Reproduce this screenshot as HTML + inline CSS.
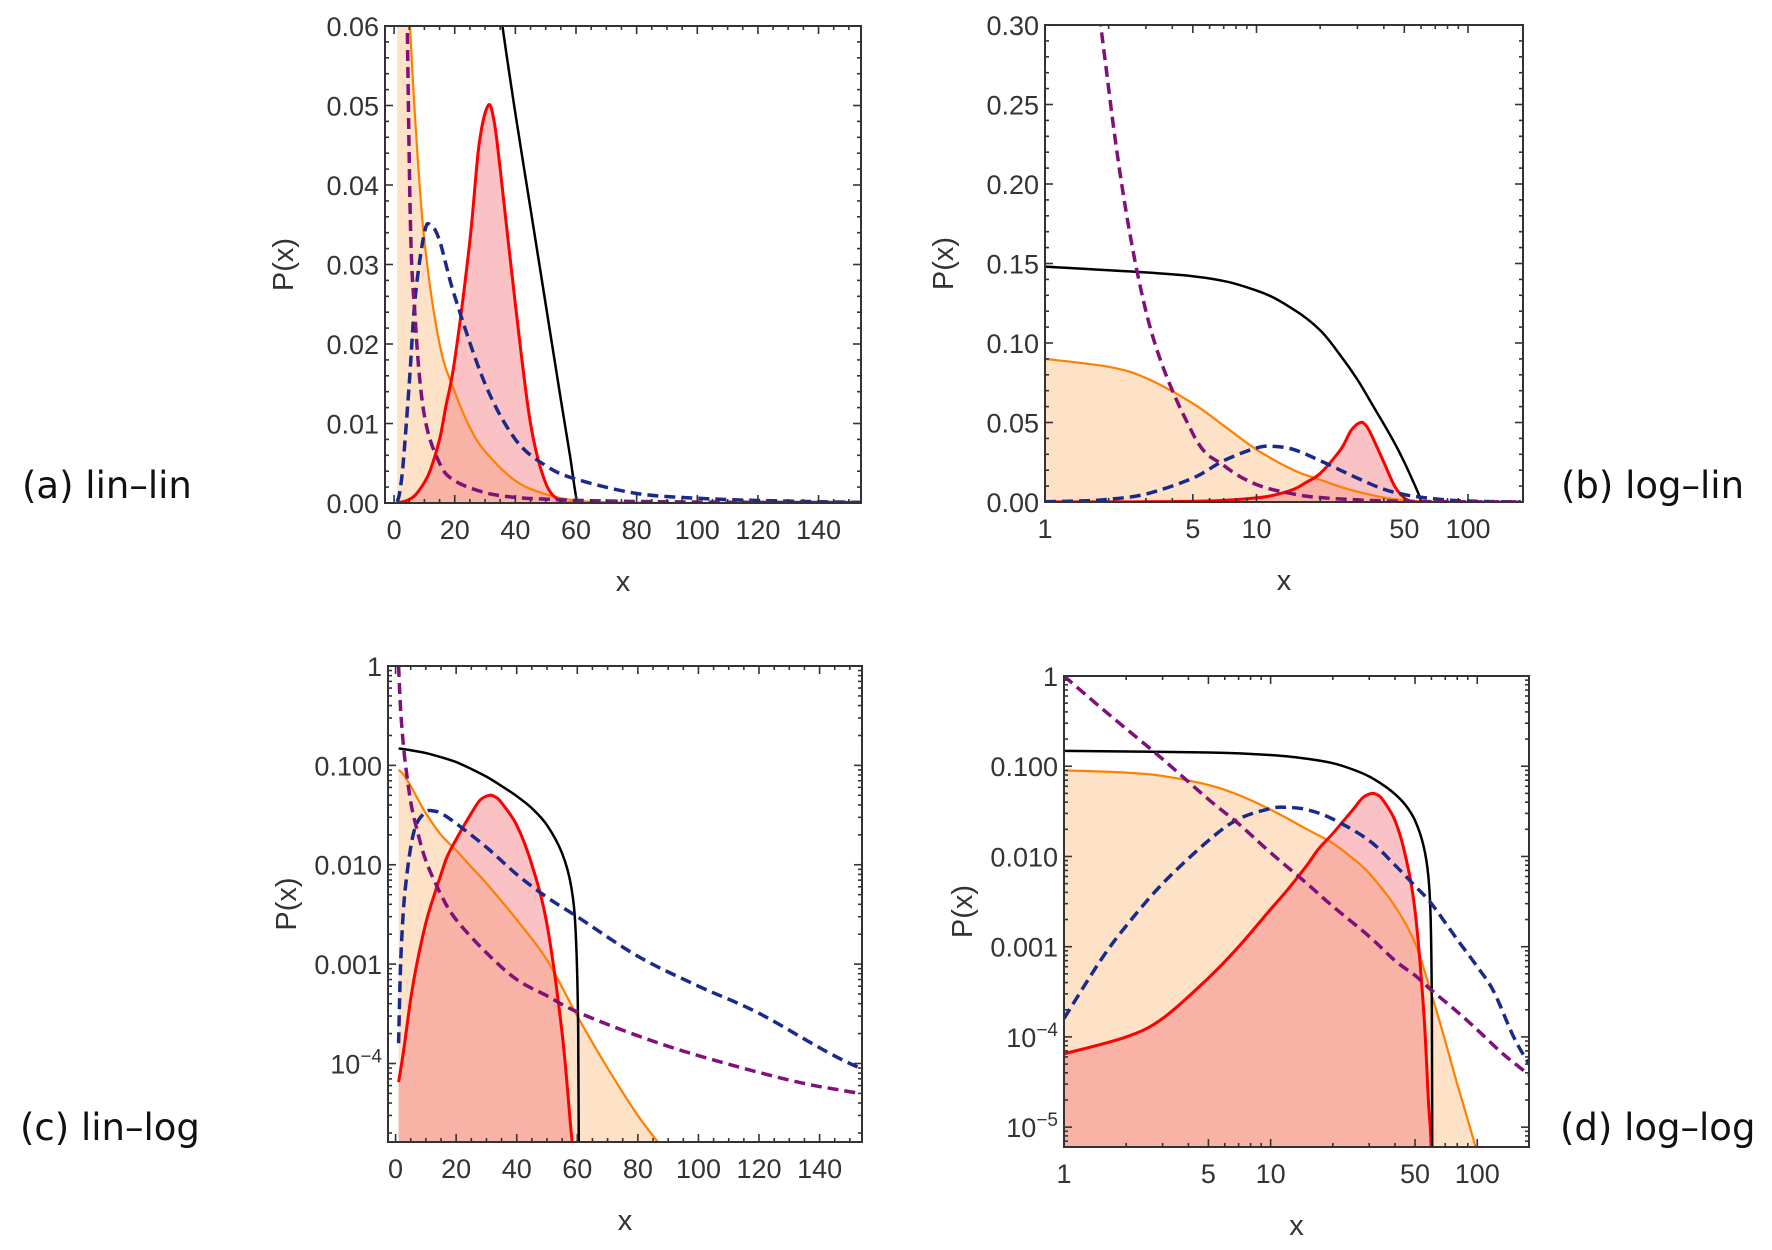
<!DOCTYPE html>
<html><head><meta charset="utf-8"><style>
html,body{margin:0;padding:0;background:#fff;width:1772px;height:1250px;overflow:hidden;position:relative;}
svg{display:block;font-family:"Liberation Sans",sans-serif;}
.tl{font-size:27px;fill:#333;}
.al{font-size:29px;fill:#333;}
.pl{position:absolute;font:37px 'DejaVu Sans','Liberation Sans',sans-serif;color:#111;white-space:nowrap;}
</style></head><body>
<svg id="fig" width="1772" height="1250" viewBox="0 0 1772 1250" xmlns="http://www.w3.org/2000/svg"></svg>
<script>
// ---- data (shared by all four panels) ----
const blackX  = [1,5,10,15,20,25,30,35,40,45,50,55,58,59.5,60.3,60.6];
const blackY  = [0.148,0.142,0.133,0.121,0.108,0.092,0.077,0.062,0.049,0.037,0.025,0.013,0.006,0.002,0.0002,0.000001];
const orangeX = [1,2,3,5,7,10,15,20,25,30,40,50,60,70,80,90,100,115];
const orangeY = [0.09,0.085,0.078,0.062,0.048,0.033,0.02,0.014,0.0095,0.0065,0.0028,0.0011,0.0003,0.00009,0.00003,0.000012,0.000005,0.000001];
const redX    = [1,2,3,5,7,10,12,15,17,20,25,28,31,33,35,40,45,50,55,58,60,62];
const redY    = [0.000065,0.0001,0.00016,0.00045,0.001,0.0026,0.0042,0.008,0.012,0.018,0.033,0.045,0.05,0.048,0.042,0.025,0.01,0.0025,0.0002,0.00002,0.000005,0.0000001];
const blueX   = [1,1.5,2,3,5,7,10,12,15,20,30,40,50,60,80,100,120,150,178];
const blueY   = [0.00016,0.0007,0.0017,0.005,0.015,0.026,0.034,0.035,0.033,0.026,0.015,0.008,0.0047,0.003,0.0012,0.0006,0.00032,0.0001,0.00005];
const purpleX = [1,1.5,2,3,5,7,10,15,20,30,40,50,60,80,100,130,150,178];
const purpleY = [1,0.45,0.26,0.12,0.043,0.023,0.011,0.005,0.0028,0.0013,0.0007,0.00048,0.00033,0.00019,0.00012,0.000068,0.000052,0.000038];
// tick labels
const linXTicks = [0,20,40,60,80,100,120,140];
const logXTicks = [1,5,10,50,100];
const aYTicks = [0,0.01,0.02,0.03,0.04,0.05,0.06];
const aYLabels = ["0.00","0.01","0.02","0.03","0.04","0.05","0.06"];
const bYTicks = [0,0.05,0.1,0.15,0.2,0.25,0.3];
const bYLabels = ["0.00","0.05","0.10","0.15","0.20","0.25","0.30"];
const cYTicks = [1,0.1,0.01,0.001,0.0001];
const dYTicks = [1,0.1,0.01,0.001,0.0001,0.00001];
const logYLabels = ["1","0.100","0.010","0.001","10^-4","10^-5"];

const NS="http://www.w3.org/2000/svg";
const svg=document.getElementById('fig');
function mk(tag,parent){const e=document.createElementNS(NS,tag);(parent||svg).appendChild(e);return e;}

const panels=[
 {id:'a',L:385,R:861,T:26,B:503,xlog:false,ylog:false,x0:-3,x1:154,y0:0,y1:0.06},
 {id:'b',L:1045,R:1523,T:25,B:502,xlog:true,ylog:false,x0:1,x1:182,y0:0,y1:0.30},
 {id:'c',L:388,R:862,T:666,B:1142,xlog:false,ylog:true,x0:-2.5,x1:154,y0:Math.pow(10,-4.79),y1:1},
 {id:'d',L:1064,R:1529,T:676,B:1147,xlog:true,ylog:true,x0:1,x1:178,y0:Math.pow(10,-5.22),y1:1}
];
function sx(p,v){ if(p.xlog){return p.L+(Math.log10(v)-Math.log10(p.x0))/(Math.log10(p.x1)-Math.log10(p.x0))*(p.R-p.L);} return p.L+(v-p.x0)/(p.x1-p.x0)*(p.R-p.L);}
function sy(p,v){ if(p.ylog){v=Math.max(v,1e-12);return p.B-(Math.log10(v)-Math.log10(p.y0))/(Math.log10(p.y1)-Math.log10(p.y0))*(p.B-p.T);} return p.B-(v-p.y0)/(p.y1-p.y0)*(p.B-p.T);}
function pathD(pts){
  let d='M'+pts[0][0].toFixed(2)+','+pts[0][1].toFixed(2);
  for(let i=0;i<pts.length-1;i++){
    const p0=pts[Math.max(0,i-1)],p1=pts[i],p2=pts[i+1],p3=pts[Math.min(pts.length-1,i+2)];
    const c1=[p1[0]+(p2[0]-p0[0])/6,p1[1]+(p2[1]-p0[1])/6];
    const c2=[p2[0]-(p3[0]-p1[0])/6,p2[1]-(p3[1]-p1[1])/6];
    d+=' C'+c1[0].toFixed(2)+','+c1[1].toFixed(2)+' '+c2[0].toFixed(2)+','+c2[1].toFixed(2)+' '+p2[0].toFixed(2)+','+p2[1].toFixed(2);
  }
  return d;
}
function pts(p,xs,ys){return xs.map((x,i)=>[sx(p,x),sy(p,ys[i])]);}

panels.forEach(p=>{
  const g=mk('g');
  
  
  const cp=mk('clipPath',g); cp.setAttribute('id','clip'+p.id);
  const cr=mk('rect',cp); cr.setAttribute('x',p.L);cr.setAttribute('y',p.T);cr.setAttribute('width',p.R-p.L);cr.setAttribute('height',p.B-p.T);
  const pg=mk('g',g); pg.setAttribute('clip-path','url(#clip'+p.id+')');
  
  
  const bottom=p.B+5;
  function fill(xs,ys,col,name){
    const P=pts(p,xs,ys);
    const e=mk('path',pg);
    e.setAttribute('d',pathD(P)+' L'+P[P.length-1][0]+','+bottom+' L'+P[0][0]+','+bottom+' Z');
    e.setAttribute('fill',col);
    
    
  }
  fill(orangeX,orangeY,'rgb(253,226,200)','orange-area');
  fill(redX,redY,'rgba(245,120,125,0.45)','red-area');
  function line(xs,ys,col,w,dash,name){
    const e=mk('path',pg);
    e.setAttribute('d',pathD(pts(p,xs,ys)));
    e.setAttribute('fill','none');e.setAttribute('stroke',col);e.setAttribute('stroke-width',w);
    if(dash)e.setAttribute('stroke-dasharray',dash);
    e.setAttribute('stroke-linejoin','round');
    
    
  }
  line(orangeX,orangeY,'#ff7f00',2.2,null,'orange-line');
  line(redX,redY,'#ff0000',3,null,'red-line');
  line(blackX,blackY,'#000',2.5,null,'black-line');
  line(blueX,blueY,'#1a2a8a',3.5,'11,6','blue-dashed-line');
  line(purpleX,purpleY,'#80107a',3.5,'11,6','purple-dashed-line');
  const fr=mk('rect',g);
  fr.setAttribute('x',p.L);fr.setAttribute('y',p.T);fr.setAttribute('width',p.R-p.L);fr.setAttribute('height',p.B-p.T);
  fr.setAttribute('fill','none');fr.setAttribute('stroke','#333');fr.setAttribute('stroke-width',2);
  
  
  function tick(x1,y1,x2,y2){const t=mk('line',g);t.setAttribute('x1',x1);t.setAttribute('y1',y1);t.setAttribute('x2',x2);t.setAttribute('y2',y2);t.setAttribute('stroke','#333');t.setAttribute('stroke-width',1.6);}
  let xmaj=[],xmin=[];
  if(p.xlog){ for(let dcd=1;dcd<=100;dcd*=10)for(let k=1;k<10;k++){const v=k*dcd;if(v>=p.x0&&v<=p.x1){(k===1||k===5)?xmaj.push(v):xmin.push(v);}} }
  else { for(let v=0;v<=150;v+=5){(v%20===0)?xmaj.push(v):xmin.push(v);} }
  xmaj.forEach(v=>{const X=sx(p,v);tick(X,p.B,X,p.B-8);tick(X,p.T,X,p.T+8);});
  xmin.forEach(v=>{const X=sx(p,v);tick(X,p.B,X,p.B-4);tick(X,p.T,X,p.T+4);});
  let ymaj=[],ymin=[];
  if(p.ylog){ for(let e=-6;e<=0;e++)for(let k=1;k<10;k++){const v=k*Math.pow(10,e);if(v>=p.y0&&v<=p.y1*1.0001){k===1?ymaj.push(v):ymin.push(v);}} }
  else { const st=p.y1/30; for(let i=0;i<=30;i++){const v=i*st;(i%5===0)?ymaj.push(v):ymin.push(v);} }
  ymaj.forEach(v=>{const Y=sy(p,v);tick(p.L,Y,p.L+8,Y);tick(p.R,Y,p.R-8,Y);});
  ymin.forEach(v=>{const Y=sy(p,v);tick(p.L,Y,p.L+4,Y);tick(p.R,Y,p.R-4,Y);});
  const xt=p.xlog?logXTicks:linXTicks;
  xt.forEach(v=>{const t=mk('text',g);t.setAttribute('class','tl');t.setAttribute('x',sx(p,v));t.setAttribute('y',p.B+36);t.setAttribute('text-anchor','middle');t.textContent=v;
    
    });
  let yt,yl;
  if(p.id==='a'){yt=aYTicks;yl=aYLabels;} else if(p.id==='b'){yt=bYTicks;yl=bYLabels;} else if(p.id==='c'){yt=cYTicks;yl=logYLabels;} else {yt=dYTicks;yl=logYLabels;}
  yt.forEach((v,i)=>{const t=mk('text',g);t.setAttribute('class','tl');t.setAttribute('x',p.L-6);t.setAttribute('y',sy(p,v)+10);t.setAttribute('text-anchor','end');
    const lab=yl[i];
    if(lab.indexOf('^')>0){const parts=lab.split('^');t.textContent=parts[0];const s=mk('tspan',t);s.setAttribute('dy','-11');s.setAttribute('font-size','19');s.textContent=parts[1].replace('-','\u2212');}
    else t.textContent=lab;
    
    });
  const xl=mk('text',g);xl.setAttribute('class','al');xl.setAttribute('x',(p.L+p.R)/2);xl.setAttribute('y',p.B+88);xl.setAttribute('text-anchor','middle');xl.textContent='x';
  
  
  const yc=(p.T+p.B)/2, yx=p.L-92;
  const ya=mk('text',g);ya.setAttribute('class','al');ya.setAttribute('x',yx);ya.setAttribute('y',yc);ya.setAttribute('text-anchor','middle');ya.setAttribute('transform','rotate(-90 '+yx+' '+yc+')');ya.textContent='P(x)';
  
  
});
</script>
<div class="pl" style="left:22px;top:464px;">(a) lin–lin</div>
<div class="pl" style="left:1561px;top:464px;">(b) log–lin</div>
<div class="pl" style="left:20px;top:1106px;">(c) lin–log</div>
<div class="pl" style="left:1560px;top:1106px;">(d) log–log</div>
</body></html>
